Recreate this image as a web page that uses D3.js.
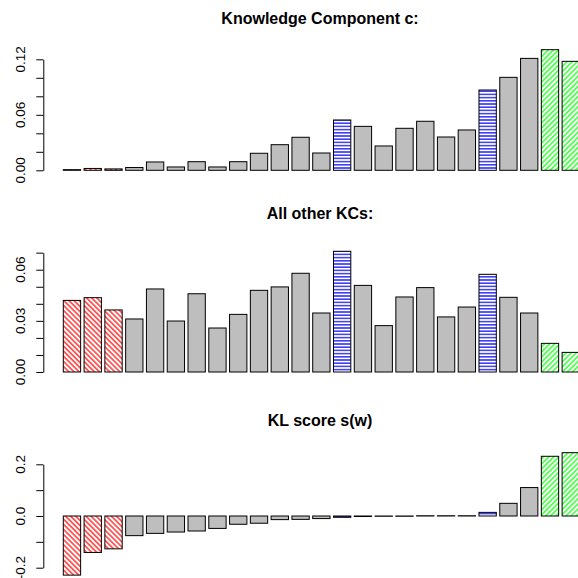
<!DOCTYPE html>
<html>
<head>
<meta charset="utf-8">
<script src="https://cdn.jsdelivr.net/npm/d3@7"></script>
<style>
  body { margin: 0; background: #fff; }
  text { font-family: "Liberation Sans", Arial, Helvetica, sans-serif; }
</style>
</head>
<body>
<script>
// SVG area
const svgWidth = 578;
const svgHeight = 578;

// bar colour group for each of the 25 bars
const barGroups = ["red", "red", "red",
  "grey", "grey", "grey", "grey", "grey", "grey", "grey", "grey", "grey", "grey",
  "blue",
  "grey", "grey", "grey", "grey", "grey", "grey",
  "blue",
  "grey", "grey",
  "green", "green"];

// panel values
const kcValues = [0.0007, 0.002, 0.0015, 0.003, 0.009, 0.0036, 0.0093, 0.0036, 0.0093, 0.0184,
  0.0277, 0.0357, 0.0187, 0.0544, 0.0475, 0.0263, 0.0454, 0.053, 0.036, 0.0436,
  0.0868, 0.1005, 0.121, 0.1304, 0.1178];
const otherValues = [0.042, 0.0436, 0.0364, 0.0311, 0.0487, 0.0299, 0.0459, 0.0258, 0.0338, 0.0479,
  0.0499, 0.0579, 0.0346, 0.0708, 0.0508, 0.0272, 0.044, 0.0495, 0.0323, 0.0381,
  0.0573, 0.0438, 0.0346, 0.0168, 0.0115];
const klValues = [-0.2287, -0.141, -0.127, -0.076, -0.0672, -0.062, -0.058, -0.048, -0.032, -0.028,
  -0.014, -0.013, -0.010, -0.005, -0.002, -0.001, -0.001, 0.001, 0.001, 0.001,
  0.014, 0.049, 0.110, 0.231, 0.245];

// axis ticks and labels
const kcTicks = [0, 0.02, 0.04, 0.06, 0.08, 0.10, 0.12];
const kcLabels = ["0.00", "0.06", "0.12"];
const otherTicks = [0, 0.01, 0.02, 0.03, 0.04, 0.05, 0.06, 0.07];
const otherLabels = ["0.00", "0.03", "0.06"];
const klTicks = [-0.2, -0.1, 0, 0.1, 0.2];
const klLabels = ["-0.2", "0.0", "0.2"];

const titles = ["Knowledge Component c:", "All other KCs:", "KL score s(w)"];

const svg = d3.select("body")
  .append("svg")
  .attr("width", svgWidth)
  .attr("height", svgHeight);

// hatch patterns like R's density/angle
const defs = svg.append("defs");
function hatch(id, colour, angle, gap) {
  const p = defs.append("pattern")
    .attr("id", id)
    .attr("patternUnits", "userSpaceOnUse")
    .attr("width", gap)
    .attr("height", gap)
    .attr("patternTransform", `rotate(${angle})`);
  p.append("rect").attr("width", gap).attr("height", gap).attr("fill", "#fff");
  p.append("line")
    .attr("x1", 0).attr("x2", gap)
    .attr("y1", gap / 2).attr("y2", gap / 2)
    .attr("stroke", colour).attr("stroke-width", 1.2);
}
hatch("hRed", "#ff0000", 45, 3.6);
hatch("hGreen", "#00ff00", -45, 3.6);
hatch("hBlue", "#0000ff", 0, 3.2);

const fills = { grey: "#bebebe", red: "url(#hRed)", green: "url(#hGreen)", blue: "url(#hBlue)" };

// barplot x units: width 1, space 0.2
const x = d3.scaleLinear().domain([0.2, 1]).range([63.3, 63.3 + 0.8 * 17.32]);

const panels = [
  { title: titles[0], values: kcValues, ticks: kcTicks, labels: kcLabels, ref: 0.12, y0: 170.3, yRef: 59.3, titleY: 24 },
  { title: titles[1], values: otherValues, ticks: otherTicks, labels: otherLabels, ref: 0.06, y0: 372, yRef: 269.7, titleY: 219 },
  { title: titles[2], values: klValues, ticks: klTicks, labels: klLabels, ref: 0.2, y0: 516, yRef: 464.3, titleY: 426 }
];

panels.forEach(p => {
  const y = d3.scaleLinear().domain([0, p.ref]).range([p.y0, p.yRef]);
  const g = svg.append("g");

  g.selectAll(".bar")
    .data(p.values)
    .enter()
    .append("rect")
    .attr("x", (d, i) => x(0.2 + 1.2 * i))
    .attr("width", x(1) - x(0))
    .attr("y", d => y(Math.max(0, d)))
    .attr("height", d => Math.abs(y(d) - y(0)))
    .attr("fill", (d, i) => fills[barGroups[i]])
    .attr("stroke", "#000")
    .attr("stroke-width", 1);

  // R style axis: line spans first to last tick
  const axisScale = y.copy().domain(d3.extent(p.ticks)).range(d3.extent(p.ticks).map(y));
  const ax = g.append("g")
    .attr("transform", "translate(43.3,0)")
    .call(d3.axisLeft(axisScale).tickValues(p.ticks).tickSize(7).tickSizeOuter(0).tickFormat(""));
  ax.select(".domain").attr("stroke-width", 1);
  ax.selectAll(".tick line").attr("stroke-width", 1);

  g.selectAll(".lab")
    .data(p.labels)
    .enter()
    .append("text")
    .attr("transform", d => `translate(25,${y(+d)}) rotate(-90)`)
    .attr("text-anchor", "middle")
    .attr("font-size", 13.5)
    .text(d => d);

  g.append("text")
    .attr("x", 320)
    .attr("y", p.titleY)
    .attr("text-anchor", "middle")
    .attr("font-size", 16)
    .attr("font-weight", "bold")
    .text(p.title);
});
</script>
</body>
</html>
